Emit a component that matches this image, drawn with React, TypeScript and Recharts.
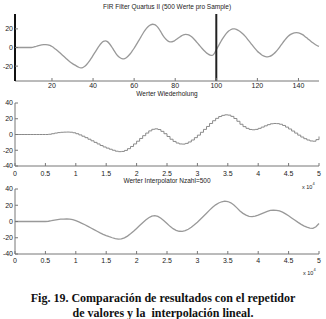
import React from "react";
import { LineChart, Line, XAxis, YAxis, ReferenceLine } from "recharts";

// filter output, one value per input sample (0..150)
const samples = [
  0, 0, 0, 0, 0, 0, 0, 0, 0, 0,
  0, 0.3, 1, 1.8, 2.4, 2.8, 3, 3.1, 2.9, 2.2,
  1, -0.5, -2.2, -4, -6, -8, -10, -12, -14, -15.8,
  -17.3, -18.7, -20, -21.2, -21.8, -21.5, -20.2, -18, -15.2, -12,
  -8.5, -5, -1.5, 1.8, 4.6, 6.6, 7.2, 6.3, 4, 1,
  -2.5, -6, -8.8, -10.8, -12, -12.2, -11.3, -9.5, -7, -4,
  -0.8, 2.8, 6.5, 10.2, 14, 17.5, 20.5, 22.8, 24.3, 25,
  24.6, 23, 20.3, 16.8, 13, 10, 7.8, 6.4, 6, 6.5,
  7.8, 9.4, 11, 12.5, 13.6, 14, 13.8, 13, 11.5, 9.4,
  7, 4.4, 1.8, -0.8, -3.2, -5.3, -7, -8.2, -8.5, -6.5,
  -2.5, 1.5, 5.5, 9.3, 12.6, 15.4, 17.6, 19.1, 20, 20,
  19.2, 18, 16.5, 14.5, 12.2, 9.6, 6.8, 4, 1.2, -1.5,
  -4, -6, -7.7, -9, -9.8, -10, -9.6, -8.5, -6.8, -4.6,
  -2, 1, 4, 7, 9.7, 12, 13.8, 15, 15.8, 16,
  15.8, 15, 13.8, 12.2, 10.4, 8.5, 6.7, 5, 3.5, 2.2,
  1.2,
];

const firTicks = [20, 40, 60, 80, 100, 120, 140];
const firLevelTicks = [-20, 0, 20];
const levelTicks = [-40, -20, 0, 20, 40];
const timeTicks = [0, 5000, 10000, 15000, 20000, 25000, 30000, 35000, 40000, 45000, 50000];
const samplesPerValue = 500;
const firstSample = 2;
const shownSamples = 100;
const markerSample = 100;

const titleFir = "FIR Filter Quartus II (500 Werte pro Sample)";
const titleHold = "Werter Wiederholung";
const titleInterp = "Werter Interpolator Nzahl=500";
const captionLines = [
  "Fig. 19. Comparación de resultados con el repetidor",
  "de valores y la  interpolación lineal.",
];

const firData = samples
  .map((v, i) => ({ n: i, v }))
  .filter((d) => d.n >= firstSample);
const timeData = samples
  .slice(0, shownSamples + 1)
  .map((v, i) => ({ t: i * samplesPerValue, v }));

const sans = "Arial, 'Liberation Sans', sans-serif";
const tickStyle = { fontSize: 7, fill: "#222", fontFamily: sans };
const axisGray = "#777";
const curveGray = "#999";
const blank = () => "";

const Title = ({ text, y }: { text: string; y: number }) => (
  <div
    style={{
      position: "absolute",
      left: 15,
      width: 304,
      top: y - 4,
      height: 8,
      lineHeight: "8px",
      textAlign: "center",
      fontFamily: sans,
      fontSize: 6.5,
      color: "#222",
      whiteSpace: "nowrap",
    }}
  >
    {text}
  </div>
);

const Exponent = ({ x, y }: { x: number; y: number }) => (
  <div
    style={{
      position: "absolute",
      left: x,
      top: y - 4,
      fontFamily: sans,
      fontSize: 5.5,
      lineHeight: "8px",
      color: "#222",
      whiteSpace: "nowrap",
    }}
  >
    x 10<sup style={{ fontSize: 4, verticalAlign: "4px" }}>4</sup>
  </div>
);

interface TimePanelProps {
  top: number;
  height: number;
  marginTop: number;
  tickMargin: number;
  step: boolean;
}

const TimePanel: React.FC<TimePanelProps> = ({ top, height, marginTop, tickMargin, step }) => (
  <div style={{ position: "absolute", left: 0, top }}>
    <LineChart
      width={326}
      height={height}
      data={timeData}
      margin={{ top: marginTop, right: 7, bottom: 0, left: 0 }}
    >
      <XAxis
        xAxisId="b"
        dataKey="t"
        type="number"
        domain={[0, 50000]}
        ticks={timeTicks}
        interval={0}
        tickFormatter={(v) => String(v / 10000)}
        height={14}
        tickSize={-3}
        tickMargin={tickMargin}
        stroke={axisGray}
        tick={tickStyle}
      />
      <XAxis
        xAxisId="t"
        orientation="top"
        dataKey="t"
        type="number"
        domain={[0, 50000]}
        ticks={timeTicks}
        interval={0}
        tickFormatter={blank}
        height={0}
        tickSize={-3}
        stroke={axisGray}
      />
      <YAxis
        yAxisId="l"
        type="number"
        domain={[-40, 40]}
        ticks={levelTicks}
        interval={0}
        width={15}
        tickSize={-3}
        tickMargin={5}
        stroke={axisGray}
        tick={tickStyle}
      />
      <YAxis
        yAxisId="r"
        orientation="right"
        type="number"
        domain={[-40, 40]}
        ticks={levelTicks}
        interval={0}
        width={0}
        tickSize={-3}
        tickFormatter={blank}
        stroke={axisGray}
      />
      <Line
        xAxisId="b"
        yAxisId="l"
        dataKey="v"
        type={step ? "stepAfter" : "linear"}
        stroke={step ? "#8a8a8a" : curveGray}
        strokeWidth={step ? 1 : 1.3}
        dot={false}
        isAnimationActive={false}
      />
    </LineChart>
  </div>
);

const FirPanel = () => (
  <div style={{ position: "absolute", left: 0, top: 0 }}>
    <LineChart
      width={326}
      height={95}
      data={firData}
      margin={{ top: 14, right: 7, bottom: 0, left: 0 }}
    >
      <XAxis
        xAxisId="b"
        dataKey="n"
        type="number"
        domain={[firstSample, 150]}
        ticks={firTicks}
        interval={0}
        height={14}
        tickSize={-3}
        tickMargin={5}
        stroke={axisGray}
        tick={tickStyle}
      />
      <XAxis
        xAxisId="t"
        orientation="top"
        dataKey="n"
        type="number"
        domain={[firstSample, 150]}
        ticks={firTicks}
        interval={0}
        tickFormatter={blank}
        height={0}
        tickSize={-3}
        stroke={axisGray}
      />
      <YAxis
        yAxisId="l"
        type="number"
        domain={[-36, 36]}
        ticks={firLevelTicks}
        interval={0}
        width={15}
        tickSize={-3}
        tickMargin={5}
        stroke={axisGray}
        axisLine={{ stroke: "#111", strokeWidth: 2 }}
        tick={tickStyle}
      />
      <YAxis
        yAxisId="r"
        orientation="right"
        type="number"
        domain={[-36, 36]}
        ticks={firLevelTicks}
        interval={0}
        width={0}
        tickSize={-3}
        tickFormatter={blank}
        stroke={axisGray}
      />
      <Line
        xAxisId="b"
        yAxisId="l"
        dataKey="v"
        type="monotone"
        stroke={curveGray}
        strokeWidth={1.3}
        dot={false}
        isAnimationActive={false}
      />
      <ReferenceLine xAxisId="b" yAxisId="l" x={markerSample} stroke="#222" strokeWidth={2} />
    </LineChart>
  </div>
);

export default function App() {
  return (
    <div
      style={{
        position: "fixed",
        left: 0,
        top: 0,
        width: 326,
        height: 319,
        background: "#fff",
        overflow: "hidden",
      }}
    >
      <FirPanel />
      <TimePanel top={90} height={90} marginTop={13} tickMargin={8} step />
      <TimePanel top={180} height={88} marginTop={9} tickMargin={7} step={false} />
      <Title text={titleFir} y={7} />
      <Title text={titleHold} y={94} />
      <Title text={titleInterp} y={181} />
      <Exponent x={302} y={184} />
      <Exponent x={303} y={270} />
      {captionLines.map((line, i) => (
        <div
          key={i}
          style={{
            position: "absolute",
            left: 0,
            width: 326,
            top: 291 + i * 15,
            height: 14,
            lineHeight: "14px",
            textAlign: "center",
            fontFamily: "'Liberation Serif', 'Times New Roman', serif",
            fontWeight: "bold",
            fontSize: 12,
            color: "#111",
            whiteSpace: "pre",
          }}
        >
          {line}
        </div>
      ))}
    </div>
  );
}
